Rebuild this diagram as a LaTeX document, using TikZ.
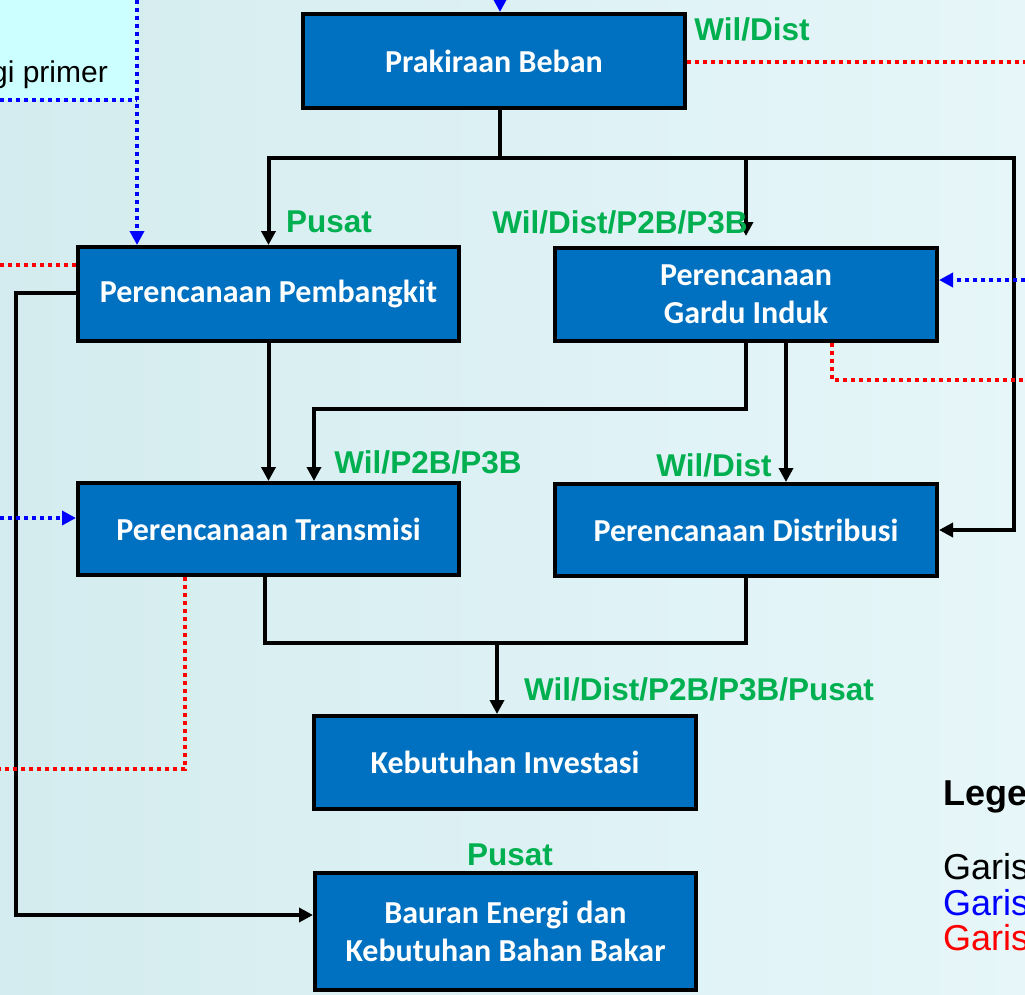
\documentclass[tikz,border=0pt]{standalone}
\usepackage{fontspec}
\setmainfont{Liberation Sans}
\newfontfamily\boxfont{Carlito}
\usetikzlibrary{arrows.meta,calc}
\definecolor{boxblue}{HTML}{0070C0}
\definecolor{lblgreen}{HTML}{00B050}
\definecolor{bgL}{HTML}{D4ECEF}
\definecolor{bgR}{HTML}{E6F6F9}
\definecolor{cyanbox}{HTML}{CCFFFF}
\definecolor{dotblue}{HTML}{0000FF}
\definecolor{dotred}{HTML}{FF0000}
\begin{document}
\begin{tikzpicture}[x=1pt,y=-1pt,
  procbox/.style={draw=black,line width=4pt,fill=boxblue,text=white,
    font=\boxfont\bfseries\fontsize{32}{38}\selectfont,align=center,inner sep=0pt},
  conn/.style={draw=black,line width=4pt,line join=miter},
  arr/.style={conn,-{Triangle[length=14pt,width=14pt]}},
  bluedot/.style={draw=dotblue,line width=4pt,dash pattern=on 4pt off 4pt},
  bluearr/.style={bluedot,-{Triangle[length=14pt,width=14pt]}},
  reddot/.style={draw=dotred,line width=4pt,dash pattern=on 4pt off 4pt},
  lbl/.style={text=lblgreen,font=\bfseries\fontsize{31.5}{37}\selectfont,inner sep=0pt},
  legtxt/.style={anchor=west,inner sep=0pt,font=\fontsize{36}{36}\selectfont}]
\clip (0,0) rectangle (1025,994);
\shade[left color=bgL,right color=bgR] (0,0) rectangle (1025,994);
\fill[cyanbox] (0,0) rectangle (137,100);

% boxes
\node[procbox,minimum width=382pt,minimum height=94pt] (prak) at (494,61) {Prakiraan Beban};
\node[procbox,minimum width=381pt,minimum height=94pt] (pemb) at (268.5,294) {Perencanaan Pembangkit};
\node[procbox,minimum width=382pt,minimum height=93pt] (gardu) at (746,294.5) {Perencanaan\\Gardu Induk};
\node[procbox,minimum width=381pt,minimum height=92pt] (trans) at (268.5,529) {Perencanaan Transmisi};
\node[procbox,minimum width=382pt,minimum height=92pt] (dist) at (746,530) {Perencanaan Distribusi};
\node[procbox,minimum width=382pt,minimum height=93pt] (keb) at (505,762.5) {Kebutuhan Investasi};
\node[procbox,minimum width=381pt,minimum height=117pt] (baur) at (505.5,931.5) {Bauran Energi dan\\Kebutuhan Bahan Bakar};

% helper coordinates
\coordinate (j1) at (500,158);
\coordinate (hr) at (1014,158);
\coordinate (gt) at (314,409);
\coordinate (x786) at (786,0);
\coordinate (tk) at (265,643);
\coordinate (dk) at (746,643);
\coordinate (kj) at (497,643);
\coordinate (lt) at (16,293);
\coordinate (lb) at (16,915);
\coordinate (redl1) at (0,265);
\coordinate (redr1) at (1025,62);
\coordinate (x832) at (832,0);
\coordinate (redr2) at (1025,380);
\coordinate (x185) at (185,0);
\coordinate (redl2) at (0,769);
\coordinate (bluer1) at (1025,280);
\coordinate (bluel1) at (0,518);
\coordinate (bluetop) at (137,0);
\coordinate (bluecorner) at (137,100);
\coordinate (blueleft) at (0,100);
\coordinate (prakin) at (500,-2);

% black connectors
\draw[arr] (prak.south -| j1) -- (j1) -| (pemb.north);
\draw[arr,shorten >=10pt] (j1) -| (gardu.north);
\draw[arr] (j1) -- (hr) |- (dist.east);
\draw[arr] (pemb.south) -- (trans.north);
\draw[arr] (gardu.south) |- (gt) -- (gt |- trans.north);
\draw[arr] (gardu.south -| x786) -- (dist.north -| x786);
\draw[conn] (trans.south -| tk) -- (tk) -- (dk) -- (dist.south -| dk);
\draw[arr] (kj) -- (keb.north -| kj);
\draw[arr] (pemb.west |- lt) -- (lt) -- (lb) -- (baur.west |- lb);

% red dotted
\draw[reddot] (pemb.west |- redl1) -- (redl1);
\draw[reddot] (prak.east |- redr1) -- (redr1);
\draw[reddot] (gardu.south -| x832) |- (redr2);
\draw[reddot] (trans.south -| x185) |- (redl2);

% blue dotted
\draw[bluedot] (blueleft) -- (bluecorner);
\draw[bluearr] (bluetop) -- (pemb.north -| bluetop);
\draw[bluearr] (bluer1) -- (gardu.east |- bluer1);
\draw[bluearr] (bluel1) -- (trans.west |- bluel1);
\draw[bluearr] (prakin) -- (prak.north -| prakin);

% labels
\node[lbl] (l1) at (752,29) {Wil/Dist};
\node[lbl] (l2) at (329,222) {Pusat};
\node[lbl] (l3) at (620,222) {Wil/Dist/P2B/P3B};
\node[lbl] (l4) at (428,462) {Wil/P2B/P3B};
\node[lbl] (l5) at (714,465) {Wil/Dist};
\node[lbl] (l6) at (699,689) {Wil/Dist/P2B/P3B/Pusat};
\node[lbl] (l7) at (510,855) {Pusat};

% top-left text
\node[anchor=base east,inner sep=0pt,font=\fontsize{30}{36}\selectfont] (prim) at (108,82) {gi primer};

% legend
\node[legtxt,font=\bfseries\fontsize{36}{36}\selectfont] (leg) at (943,796) {Legenda};
\node[legtxt] (g1) at (943,867) {Garis};
\node[legtxt,text=dotblue] (g2) at (943,903) {Garis};
\node[legtxt,text=dotred] (g3) at (943,938) {Garis};
\end{tikzpicture}
\end{document}
